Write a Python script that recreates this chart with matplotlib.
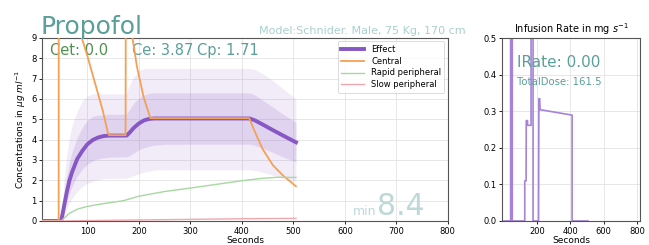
import matplotlib
matplotlib.use("Agg")
import matplotlib.pyplot as plt

# ---------------- data ----------------
effect_t = [12, 49, 55, 60, 65, 70, 80, 90, 100, 110, 120, 130, 140, 176, 182, 190, 200, 210, 220, 230, 415, 425, 440, 460, 480, 505]
effect_v = [0, 0, 0.8, 1.45, 2.0, 2.4, 3.05, 3.45, 3.78, 3.98, 4.1, 4.17, 4.2, 4.2, 4.35, 4.58, 4.8, 4.95, 5.02, 5.04, 5.04, 4.95, 4.75, 4.47, 4.2, 3.87]

central_t = [12, 44, 44.5, 80, 89, 100, 110, 120, 130, 140, 142, 174, 175, 180, 187, 196, 209, 222, 414, 425, 440, 460, 480, 505]
central_v = [0, 0, 30, 12.0, 9.0, 8.1, 7.2, 6.3, 5.4, 4.3, 4.22, 4.22, 20, 12.0, 9.07, 7.6, 6.1, 5.06, 5.06, 4.4, 3.55, 2.75, 2.23, 1.71]

rapid_t = [12, 49, 55, 65, 80, 100, 130, 170, 200, 250, 300, 350, 400, 440, 470, 505]
rapid_v = [0, 0, 0.15, 0.38, 0.58, 0.72, 0.85, 1.0, 1.22, 1.45, 1.62, 1.8, 1.98, 2.1, 2.15, 2.14]

slow_t = [12, 49, 100, 200, 300, 400, 505]
slow_v = [0, 0, 0.02, 0.05, 0.08, 0.11, 0.13]

band_t = [49, 55, 60, 65, 70, 80, 90, 100, 110, 120, 130, 140, 150, 175, 182, 190, 200, 210, 220, 230, 250, 415, 425, 440, 460, 480, 505]
outer_hi = [0, 2.2, 3.3, 4.1, 4.7, 5.4, 5.9, 6.15, 6.25, 6.25, 6.25, 6.25, 6.25, 6.25, 6.7, 7.1, 7.4, 7.5, 7.5, 7.5, 7.5, 7.5, 7.45, 7.25, 6.9, 6.5, 6.0]
inner_hi = [0, 1.4, 2.2, 2.9, 3.4, 4.1, 4.6, 4.95, 5.15, 5.2, 5.22, 5.25, 5.25, 5.25, 5.5, 5.8, 6.05, 6.2, 6.28, 6.3, 6.3, 6.3, 6.2, 5.95, 5.6, 5.25, 4.85]
inner_lo = [0, 0.5, 1.0, 1.4, 1.7, 2.2, 2.55, 2.8, 2.95, 3.05, 3.1, 3.13, 3.15, 3.15, 3.22, 3.35, 3.5, 3.6, 3.68, 3.73, 3.77, 3.78, 3.72, 3.58, 3.37, 3.15, 2.9]
outer_lo = [0, 0.3, 0.6, 0.9, 1.1, 1.45, 1.7, 1.85, 1.95, 2.02, 2.07, 2.1, 2.1, 2.1, 2.15, 2.23, 2.32, 2.4, 2.45, 2.5, 2.52, 2.52, 2.48, 2.4, 2.25, 2.1, 1.95]

rate_t = [0, 40, 40, 50, 50, 125, 125, 133, 134, 142, 142, 163, 163, 175, 175, 208, 210, 215, 217, 410, 410, 505]
rate_v = [0, 0, 3.0, 3.0, 0, 0, 0.11, 0.11, 0.275, 0.275, 0.262, 0.262, 3.0, 3.0, 0, 0, 0.335, 0.335, 0.305, 0.29, 0, 0]

legend_labels = ["Effect", "Central", "Rapid peripheral", "Slow peripheral"]
main_xticks = [100, 200, 300, 400, 500, 600, 700, 800]
main_yticks = [0, 1, 2, 3, 4, 5, 6, 7, 8, 9]
rate_xticks = [200, 400, 600, 800]
rate_yticks = [0.0, 0.1, 0.2, 0.3, 0.4, 0.5]

# ---------------- figure ----------------
fig = plt.figure(figsize=(6.49, 2.45), dpi=100)
ax = fig.add_axes([0.065, 0.098, 0.625, 0.747])
ax2 = fig.add_axes([0.774, 0.098, 0.212, 0.745])

purple = "#8757c4"
ax.fill_between(band_t, outer_lo, outer_hi, color="#9b72cf", alpha=0.13, lw=0)
ax.fill_between(band_t, inner_lo, inner_hi, color="#9b72cf", alpha=0.20, lw=0)
ax.plot(effect_t, effect_v, color=purple, lw=2.8, label=legend_labels[0], zorder=3)
ax.plot(central_t, central_v, color="#f4a055", lw=1.3, label=legend_labels[1], zorder=4)
ax.plot(rapid_t, rapid_v, color="#a6d9a0", lw=1.0, label=legend_labels[2], zorder=4)
ax.plot(slow_t, slow_v, color="#f2a6ae", lw=1.0, label=legend_labels[3], zorder=4)

ax.set_xlim(12, 800)
ax.set_ylim(0, 9)
ax.set_xticks(main_xticks)
ax.set_yticks(main_yticks)
ax.tick_params(labelsize=6, length=2.5, width=0.6, pad=1.5)
ax.grid(True, color="#e3e3e3", lw=0.6)
ax.set_axisbelow(True)
ax.set_xlabel("Seconds", fontsize=6.5, labelpad=0)
ax.set_ylabel(r"Concentrations in $\mu g\ ml^{-1}$", fontsize=6.5, labelpad=2)
for s in ax.spines.values():
    s.set_color("#555555")
    s.set_linewidth(0.8)
leg = ax.legend(loc="upper right", fontsize=6, frameon=True, handlelength=2.8,
                borderaxespad=0.4, labelspacing=0.35)
leg.get_frame().set_edgecolor("#cccccc")
leg.get_frame().set_linewidth(0.6)

teal = "#5a9f99"
ax.text(0.02, 0.906, "Cet: 0.0", transform=ax.transAxes, fontsize=10.5,
        color="#4f9150", va="baseline", ha="left")
ax.text(0.221, 0.906, "Ce: 3.87", transform=ax.transAxes, fontsize=10.5,
        color=teal, va="baseline", ha="left")
ax.text(0.382, 0.906, "Cp: 1.71", transform=ax.transAxes, fontsize=10.5,
        color=teal, va="baseline", ha="left")
ax.text(0.823, 0.035, "min", transform=ax.transAxes, fontsize=9,
        color="#bcd9d8", va="baseline", ha="right")
ax.text(0.826, 0.035, "8.4", transform=ax.transAxes, fontsize=21.5,
        color="#bcd9d8", va="baseline", ha="left")

fig.text(0.063, 1 - 34 / 245, "Propofol", fontsize=18, color=teal,
         va="baseline", ha="left")
fig.text(0.718, 1 - 34 / 245, "Model:Schnider. Male, 75 Kg, 170 cm", fontsize=8,
         color="#a9d0cd", va="baseline", ha="right")

# infusion rate axes
ax2.plot(rate_t, rate_v, color="#a683d6", lw=1.2)
ax2.set_xlim(-10, 818)
ax2.set_ylim(0, 0.5)
ax2.set_xticks(rate_xticks)
ax2.set_yticks(rate_yticks)
ax2.tick_params(labelsize=6, length=2.5, width=0.6, pad=1.5)
ax2.grid(True, color="#e3e3e3", lw=0.6)
ax2.set_axisbelow(True)
ax2.set_xlabel("Seconds", fontsize=6.5, labelpad=0)
ax2.set_title(r"Infusion Rate in mg $s^{-1}$", fontsize=7, pad=4)
for s in ax2.spines.values():
    s.set_color("#555555")
    s.set_linewidth(0.8)
ax2.text(0.105, 0.846, "IRate: 0.00", transform=ax2.transAxes, fontsize=11,
         color=teal, va="baseline", ha="left")
ax2.text(0.105, 0.744, "TotalDose: 161.5", transform=ax2.transAxes, fontsize=7.3,
         color=teal, va="baseline", ha="left")

fig.savefig("out.png", dpi=100)
